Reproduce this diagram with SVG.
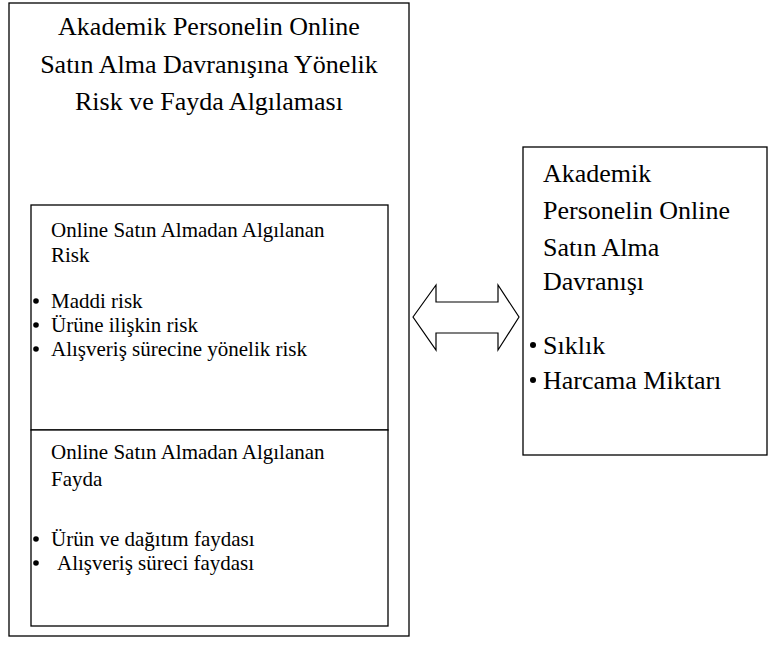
<svg xmlns="http://www.w3.org/2000/svg" width="780" height="648" viewBox="0 0 780 648">
<style>
rect{fill:#fff;stroke:#000;stroke-width:1.3}
text{font-family:'Liberation Serif','Times New Roman',Times,serif;fill:#000}
.t{font-size:26px;text-anchor:middle}
.s{font-size:21px}
.r{font-size:26px}
</style>
<rect width="780" height="648" style="stroke:none"/>
<g id="outer">
<rect x="9" y="3" width="400" height="633"/>
<text class="t" x="209" y="35">Akademik Personelin Online</text>
<text class="t" x="209" y="73">Satın Alma Davranışına Yönelik</text>
<text class="t" x="209" y="110">Risk ve Fayda Algılaması</text>
</g>
<g id="risk">
<rect x="31" y="205" width="357" height="225"/>
<text class="s" x="51" y="237">Online Satın Almadan Algılanan</text>
<text class="s" x="51" y="262">Risk</text>
<circle cx="36" cy="301" r="2.8"/>
<text class="s" x="51" y="308">Maddi risk</text>
<circle cx="36" cy="325" r="2.8"/>
<text class="s" x="51" y="332">Ürüne ilişkin risk</text>
<circle cx="36" cy="349" r="2.8"/>
<text class="s" x="51" y="356">Alışveriş sürecine yönelik risk</text>
</g>
<g id="fayda">
<rect x="31" y="430" width="357" height="196"/>
<text class="s" x="51" y="459">Online Satın Almadan Algılanan</text>
<text class="s" x="51" y="486">Fayda</text>
<circle cx="36" cy="539" r="2.8"/>
<text class="s" x="51" y="546">Ürün ve dağıtım faydası</text>
<circle cx="36" cy="563" r="2.8"/>
<text class="s" x="57" y="570">Alışveriş süreci faydası</text>
</g>
<g id="behavior">
<rect x="523" y="147" width="244" height="308"/>
<text class="r" x="543" y="182">Akademik</text>
<text class="r" x="543" y="219">Personelin Online</text>
<text class="r" x="543" y="256">Satın Alma</text>
<text class="r" x="543" y="290">Davranışı</text>
<circle cx="533" cy="345" r="3"/>
<text class="r" x="543" y="354">Sıklık</text>
<circle cx="533" cy="380" r="3"/>
<text class="r" x="543" y="389">Harcama Miktarı</text>
</g>
<g id="connectors">
<path d="M413,317 L436,285 L436,302 L498,302 L498,285 L519,317 L498,350 L498,333 L436,333 L436,350 Z" fill="#fff" stroke="#000" stroke-width="1.2" stroke-linejoin="miter"/>
</g>
</svg>
